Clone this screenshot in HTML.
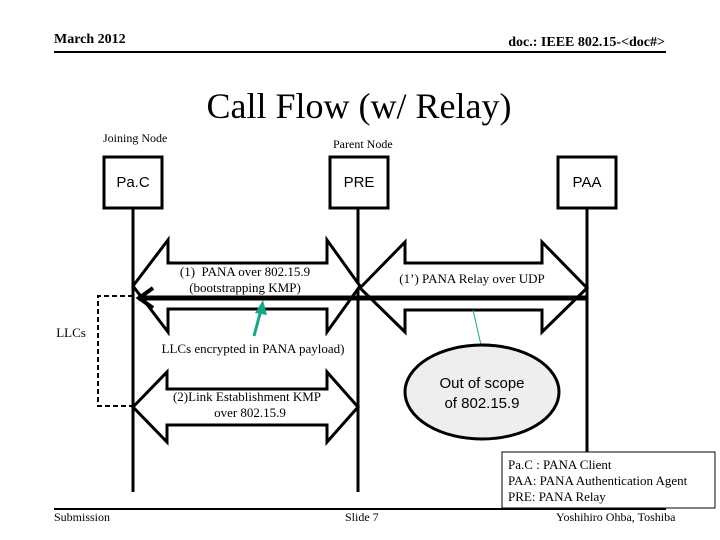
<!DOCTYPE html>
<html><head><meta charset="utf-8"><style>
html,body{margin:0;padding:0;background:#fff;width:720px;height:540px;overflow:hidden}
svg{display:block}
</style></head><body>
<svg width="720" height="540" viewBox="0 0 720 540" xmlns="http://www.w3.org/2000/svg">
<g font-family="Liberation Serif, serif" fill="#000">
<text x="54" y="43" font-size="14" font-weight="bold">March 2012</text>
<text x="665" y="46" font-size="14" font-weight="bold" text-anchor="end">doc.: IEEE 802.15-&lt;doc#&gt;</text>
<text x="359" y="118" font-size="36" text-anchor="middle">Call Flow (w/ Relay)</text>
<text x="103" y="142" font-size="12">Joining Node</text>
<text x="333" y="148" font-size="12">Parent Node</text>
</g>
<line x1="54" y1="52" x2="666" y2="52" stroke="#000" stroke-width="2"/>
<line x1="54" y1="509" x2="666" y2="509" stroke="#000" stroke-width="2"/>
<!-- lifelines -->
<g stroke="#000" stroke-width="3">
<line x1="133" y1="208" x2="133" y2="492"/>
<line x1="358" y1="208" x2="358" y2="492"/>
<line x1="587" y1="208" x2="587" y2="452"/>
</g>
<!-- boxes -->
<g fill="#fff" stroke="#000" stroke-width="3">
<rect x="104" y="157" width="58" height="51"/>
<rect x="330" y="157" width="58" height="51"/>
<rect x="558" y="157" width="58" height="51"/>
</g>
<g font-family="Liberation Sans, sans-serif" font-size="15" text-anchor="middle">
<text x="133" y="187">Pa.C</text>
<text x="359" y="187">PRE</text>
<text x="587" y="187">PAA</text>
</g>
<!-- double arrows -->
<g fill="#fff" stroke="#000" stroke-width="3" stroke-linejoin="miter">
<polygon points="133,286 168,240 168,263 327,263 327,240 360,286 327,332 327,309 168,309 168,332"/>
<polygon points="360,288 405,242 405,263 542,263 542,242 587,288 542,332 542,310 405,310 405,332"/>
<polygon points="133,407 167,372 167,389 327,389 327,372 358,407 327,442 327,425 167,425 167,442"/>
</g>
<!-- thick horizontal line -->
<line x1="138" y1="298" x2="587" y2="298" stroke="#000" stroke-width="5"/>
<polyline points="153,288 139,298 153,308" fill="none" stroke="#000" stroke-width="4"/>
<!-- dashed -->
<polyline points="133,296 98,296 98,406 133,406" fill="none" stroke="#000" stroke-width="2" stroke-dasharray="5,3"/>
<!-- green arrow -->
<line x1="254" y1="336" x2="261" y2="310" stroke="#1aa58a" stroke-width="3"/>
<polygon points="263,300 255,313 267,315" fill="#1aa58a"/>
<line x1="473" y1="310" x2="481" y2="345" stroke="#1aa58a" stroke-width="1"/>
<ellipse cx="482" cy="392" rx="77" ry="47" fill="#eee" stroke="#000" stroke-width="3"/>
<g font-family="Liberation Serif, serif" font-size="13" text-anchor="middle">
<text x="245" y="276">(1)&#160;&#160;PANA over 802.15.9</text>
<text x="245" y="292">(bootstrapping KMP)</text>
<text x="472" y="283">(1’) PANA Relay over UDP</text>
<text x="253" y="353">LLCs encrypted in PANA payload)</text>
<text x="247" y="401">(2)Link Establishment KMP</text>
<text x="250" y="417">over 802.15.9</text>
<text x="71" y="337">LLCs</text>
</g>
<g font-family="Liberation Sans, sans-serif" font-size="15" text-anchor="middle">
<text x="482" y="388">Out of scope</text>
<text x="482" y="408">of 802.15.9</text>
</g>
<rect x="502" y="452" width="213" height="56" fill="#fff" stroke="#000" stroke-width="1"/>
<g font-family="Liberation Serif, serif" font-size="13">
<text x="508" y="469">Pa.C : PANA Client</text>
<text x="508" y="485">PAA: PANA Authentication Agent</text>
<text x="508" y="501">PRE: PANA Relay</text>
<text x="54" y="521" font-size="12">Submission</text>
<text x="345" y="521" font-size="12">Slide 7</text>
<text x="556" y="521" font-size="12">Yoshihiro Ohba, Toshiba</text>
</g>
</svg>
</body></html>
